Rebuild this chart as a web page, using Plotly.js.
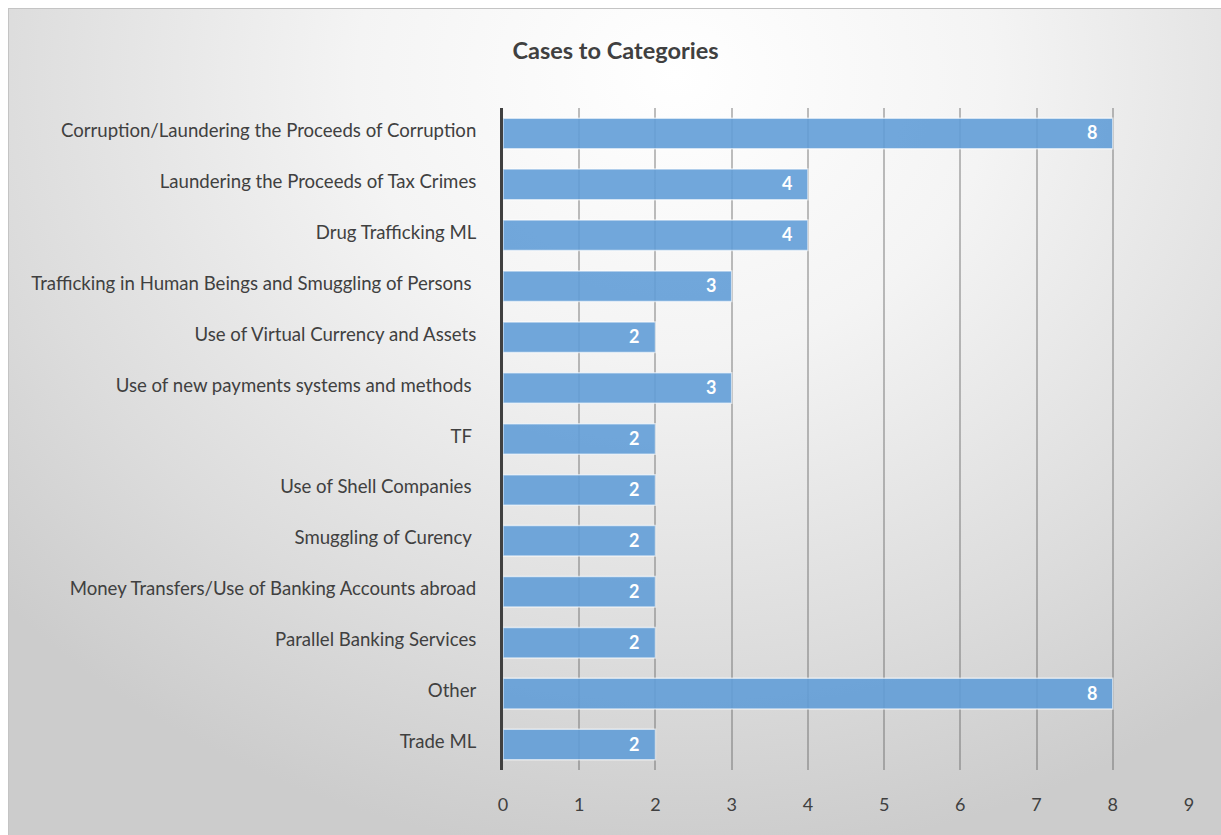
<!DOCTYPE html>
<html>
<head>
<meta charset="utf-8">
<script src="https://cdn.plot.ly/plotly-3.0.1.min.js"></script>
<style>
  html, body { margin: 0; padding: 0; background: #ffffff; }
  #chart {
    position: absolute; left: 8px; top: 8px; width: 1213px; height: 827px;
    border-top: 1px solid #c4c4c4; border-left: 1px solid #c4c4c4;
    box-sizing: border-box;
    background: radial-gradient(ellipse 75% 95% at 55% 8%, #ffffff 0%, #f4f4f4 35%, #dcdcdc 75%, #cccccc 100%);
  }
</style>
</head>
<body>
<div id="chart"></div>
<script>
const categories = [
  "Corruption/Laundering the Proceeds of Corruption",
  "Laundering the Proceeds of Tax Crimes",
  "Drug Trafficking ML",
  "Trafficking in Human Beings and Smuggling of Persons ",
  "Use of Virtual Currency and Assets",
  "Use of new payments systems and methods ",
  "TF ",
  "Use of Shell Companies ",
  "Smuggling of Curency ",
  "Money Transfers/Use of Banking Accounts abroad",
  "Parallel Banking Services",
  "Other",
  "Trade ML"
];
const cases = [8, 4, 4, 3, 2, 3, 2, 2, 2, 2, 2, 8, 2];
const xTicks = [0, 1, 2, 3, 4, 5, 6, 7, 8, 9];

const trace = {
  type: "bar",
  orientation: "h",
  y: categories,
  x: cases,
  marker: {
    color: "rgba(98,157,215,0.9)",
    line: { color: "rgba(255,255,255,0.6)", width: 1.5 }
  },
  hoverinfo: "x+y"
};

const labels = categories.map((c, i) => ({
  x: cases[i],
  y: c,
  xref: "x",
  yref: "y",
  text: "<b>" + cases[i] + "</b>",
  showarrow: false,
  xanchor: "right",
  yanchor: "middle",
  xshift: -14,
  yshift: 1,
  font: { family: "Lato, sans-serif", size: 18, color: "#ffffff" }
}));

const layout = {
  width: 1213,
  height: 827,
  paper_bgcolor: "rgba(0,0,0,0)",
  plot_bgcolor: "rgba(0,0,0,0)",
  margin: { l: 494, r: 33, t: 99, b: 66 },
  title: {
    text: "<b>Cases to Categories</b>",
    x: 0.5, xanchor: "center",
    y: 0.949, yanchor: "middle",
    font: { family: "Lato, sans-serif", size: 23.5, color: "#404040" }
  },
  bargap: 0.4,
  showlegend: false,
  annotations: labels,
  xaxis: {
    range: [0, 9],
    tickvals: xTicks,
    ticktext: xTicks.map(String),
    showgrid: true,
    gridcolor: "rgba(100,100,100,0.42)",
    gridwidth: 2,
    zeroline: false,
    showline: false,
    ticks: "",
    ticklabelstandoff: 22,
    tickfont: { family: "Lato, sans-serif", size: 18, color: "#404040" },
    fixedrange: true
  },
  yaxis: {
    type: "category",
    autorange: "reversed",
    showgrid: false,
    zeroline: false,
    showline: true,
    linecolor: "#404040",
    linewidth: 3,
    ticks: "",
    ticklabelstandoff: 20,
    ticklabelshift: 3,
    tickfont: { family: "Lato, sans-serif", size: 18.6, color: "#404040" },
    fixedrange: true
  }
};

Plotly.newPlot("chart", [trace], layout, { displayModeBar: false });
</script>
</body>
</html>
